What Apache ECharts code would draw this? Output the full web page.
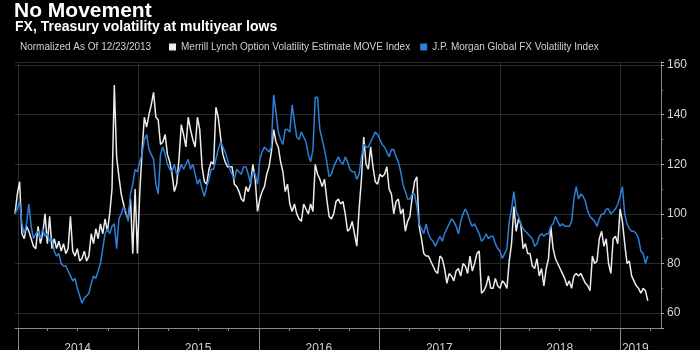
<!DOCTYPE html>
<html>
<head>
<meta charset="utf-8">
<script src="https://cdn.jsdelivr.net/npm/echarts@6/dist/echarts.min.js"></script>
<style>
  html, body { margin: 0; background: #000; }
  #chart { width: 700px; height: 350px; }
</style>
</head>
<body>
<div id="chart"></div>
<script>
// weekly values, both normalized to 100 on 12/23/2013
const startDate = Date.UTC(2013, 11, 23)
const endDate = Date.UTC(2019, 4, 4)

const moveIndex = [
  100, 108, 113, 92, 90, 95, 93, 90, 87, 86, 95, 88, 92, 100, 88, 99, 86, 90, 86, 89,
  85, 88, 84, 86, 99, 85, 83, 86, 81, 82, 85, 81, 83, 92, 88, 94, 90, 96, 92, 98,
  93, 100, 110, 152, 123, 115, 108, 104, 100, 98, 106, 84, 110, 84, 108,
  125, 139, 135, 140, 144, 149, 139, 138, 128, 129, 132, 124, 121, 116, 109, 112, 122, 136, 132, 127,
  139, 134, 130, 127, 139, 134, 119, 113, 112, 118, 121, 120, 143, 139, 131, 124, 121, 119, 119, 119,
  112, 111, 109, 106, 105, 111, 109, 112, 120, 114, 101,
  106, 109, 111, 116, 119, 125, 134, 129, 127, 121, 117, 109, 112, 104, 101, 104, 100, 98, 97, 104,
  102, 100, 104, 101, 120, 116, 114, 111, 114, 106, 99, 98, 100, 105, 106, 104, 105, 100, 93, 94,
  97, 92, 87, 102, 114, 131, 120, 118, 127, 119, 113, 112, 116, 115, 116, 119, 110,
  108, 100, 105, 106, 100, 102, 93, 97, 99, 107, 113, 115, 95, 90, 84, 83, 83, 81, 79, 77,
  76, 83, 82, 78, 72, 76, 75, 73, 77, 78, 75, 80, 79, 76, 83, 77, 80, 84, 85, 68,
  69, 71, 75, 70, 70, 74, 71, 70, 73, 72, 70, 81, 88, 103,
  93, 98, 96, 86, 88, 84, 84, 79, 78, 82, 75, 78, 71, 78, 82, 95, 86, 82, 80, 78,
  76, 74, 71, 73, 70, 75, 76, 75, 76, 74, 72, 71, 69, 83, 80, 81, 90, 93, 87, 90,
  80, 76, 90, 91, 88, 102, 97, 88, 80, 81, 75, 73, 71, 70, 68, 70, 69, 65
]

const fxVolIndex = [
  100, 102, 105, 96, 92, 96, 104, 95, 90, 92, 93, 90, 94, 91, 92, 89, 90, 85, 83, 84,
  80, 79, 79, 77, 75, 73, 74, 70, 67, 64, 66, 67, 68, 72, 75, 74, 77, 80, 86, 92,
  94, 92, 95, 96, 86, 98, 100, 103, 101, 97, 108, 112, 118, 117, 121,
  124, 130, 132, 126, 124, 122, 112, 108, 124, 127, 124, 120, 118, 117, 120, 116, 117, 120, 118, 120,
  122, 118, 120, 116, 112, 114, 110, 107, 111, 114, 118, 118, 122, 126, 129, 127, 125, 122, 118, 116,
  114, 118, 117, 116, 119, 119, 116, 112, 117, 116, 112,
  122, 125, 127, 126, 125, 127, 148, 141, 133, 130, 128, 134, 134, 133, 144, 137, 131, 130, 133, 131,
  129, 124, 121, 126, 147, 147, 134, 130, 126, 121, 115, 116, 119, 121, 123, 121, 120, 123, 121, 118,
  117, 117, 114, 116, 123, 128, 127, 127, 129, 131, 133, 132, 130, 128, 127, 125, 123,
  126, 126, 123, 121, 117, 112, 109, 106, 106, 108, 108, 103, 96, 94, 92, 96, 92, 90, 89, 87,
  89, 91, 89, 92, 94, 96, 98, 97, 95, 92, 97, 100, 102, 100, 97, 95, 96, 94, 92, 89,
  90, 92, 90, 91, 91, 88, 86, 85, 82, 84, 86, 97, 102, 109,
  101, 99, 96, 94, 93, 92, 91, 90, 87, 88, 91, 92, 91, 92, 92, 95, 96, 99, 97, 95,
  96, 95, 95, 95, 97, 106, 111, 106, 108, 107, 105, 101, 99, 98, 97, 95, 98, 100, 100, 102,
  102, 100, 101, 102, 104, 107, 111, 100, 96, 94, 93, 93, 92, 90, 85, 84, 80, 83
]

// where the year names sit (middle of each year, 2019 only partly shown)
const yearLabelDates = ['2014-07-01', '2015-07-01', '2016-07-01', '2017-07-01', '2018-07-01', '2019-02-15']

const ONE_DAY = 24 * 3600 * 1000
const fmt = t => new Date(t).toISOString().slice(0, 10)

const days = []
for (let t = startDate; t <= endDate; t += ONE_DAY) days.push(fmt(t))
const weeks = moveIndex.map((_, i) => days[i * 7])

const moveName = 'Merrill Lynch Option Volatility Estimate MOVE Index'
const fxName = 'J.P. Morgan Global FX Volatility Index'
const font = 'Liberation Sans'

const chart = echarts.init(document.getElementById('chart'))
chart.setOption({
  backgroundColor: '#000',
  animation: false,
  textStyle: { fontFamily: font },
  title: [
    { text: 'No Movement', left: 14, top: 1, padding: 0,
      textStyle: { color: '#fff', fontSize: 21, fontWeight: 'bold', fontFamily: font } },
    { text: 'FX, Treasury volatility at multiyear lows', left: 15, top: 20, padding: 0,
      textStyle: { color: '#fff', fontSize: 14, fontWeight: 'bold', fontFamily: font } },
    { text: 'Normalized As Of 12/23/2013', left: 20, top: 42, padding: 0,
      textStyle: { color: '#cfcfcf', fontSize: 10, fontWeight: 'normal', fontFamily: font } }
  ],
  legend: {
    left: 169, top: 42, padding: 0,
    icon: 'rect', itemWidth: 7, itemHeight: 7, itemGap: 10,
    textStyle: { color: '#cfcfcf', fontSize: 10, fontFamily: font },
    data: [moveName, fxName]
  },
  // year names are cut by the bottom edge, as in the original
  grid: { left: 15, right: 39, top: 62, bottom: 22, outerBoundsMode: 'none', containLabel: false },
  xAxis: [
    {
      type: 'category',
      data: days,
      boundaryGap: false,
      position: 'bottom',
      axisLine: { lineStyle: { color: '#8a8a8a' } },
      axisTick: { interval: (i, v) => v.endsWith('-01-01'), length: 22, lineStyle: { color: '#8a8a8a' } },
      splitLine: { show: true, interval: (i, v) => v.endsWith('-01-01'), lineStyle: { color: '#2a2a2a' } },
      axisLabel: {
        interval: (i, v) => yearLabelDates.includes(v),
        formatter: v => v.slice(0, 4),
        color: '#d0d0d0', fontSize: 12, margin: 15
      }
    },
    {
      // quarter ticks
      type: 'category',
      data: days,
      boundaryGap: false,
      position: 'bottom',
      axisLine: { show: false },
      axisTick: { interval: (i, v) => /-(04|07|10)-01$/.test(v), length: 3, lineStyle: { color: '#8a8a8a' } },
      axisLabel: { show: false },
      splitLine: { show: false }
    }
  ],
  yAxis: {
    type: 'value',
    position: 'right',
    min: 54,
    max: 161.25,
    splitNumber: 5,
    axisLine: { show: true, lineStyle: { color: '#8a8a8a' } },
    axisTick: { show: true, length: 3, lineStyle: { color: '#aaa' } },
    minorTick: { show: true, splitNumber: 2, length: 2, lineStyle: { color: '#888' } },
    axisLabel: { color: '#d8d8d8', fontSize: 12, margin: 6, showMinLabel: false, showMaxLabel: false },
    splitLine: { lineStyle: { color: '#2a2a2a' } }
  },
  series: [
    {
      name: moveName,
      type: 'line',
      symbol: 'none',
      color: '#ececec',
      lineStyle: { width: 1.5 },
      data: weeks.map((d, i) => [d, moveIndex[i]])
    },
    {
      name: fxName,
      type: 'line',
      symbol: 'none',
      color: '#2d7fd9',
      lineStyle: { width: 1.5 },
      data: weeks.map((d, i) => [d, fxVolIndex[i]])
    }
  ]
})
</script>
</body>
</html>
